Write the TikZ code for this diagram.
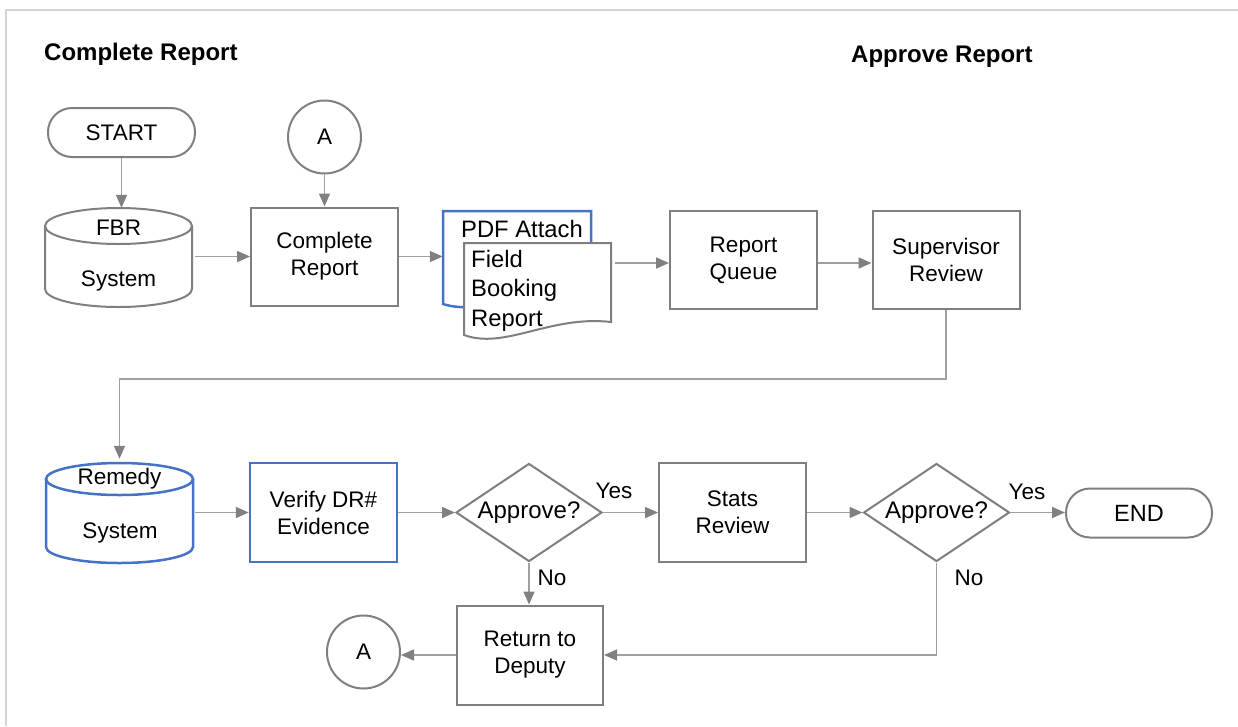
\documentclass[tikz,border=0pt]{standalone}
\usepackage{fontspec}
\setmainfont{Liberation Sans}
\usetikzlibrary{arrows.meta,shapes.geometric}
\definecolor{shp}{HTML}{7F7F7F}
\definecolor{cn}{HTML}{A0A0A0}
\definecolor{ah}{HTML}{808080}
\definecolor{bl}{HTML}{4472C4}
\definecolor{frm}{HTML}{D4D4D4}
\tikzset{
  txt/.style={font=\fontsize{22.5}{27}\selectfont, align=center, inner sep=0},
  proc/.style={txt, rectangle, draw=shp, line width=2pt, fill=white, minimum width=147, minimum height=98},
  term/.style={txt, rectangle, rounded corners=24pt, draw=shp, line width=2pt, minimum width=147, minimum height=49},
  dec/.style={diamond, draw=shp, line width=2pt, minimum width=146, minimum height=98, inner sep=0, aspect=1.49,
    font=\fontsize{24}{28}\selectfont},
  conn/.style={draw=cn, line width=1.6pt, -{Triangle[length=13pt,width=11pt,fill=ah,color=ah]}},
  ghost/.style={inner sep=0, rectangle},
  ttl/.style={font=\bfseries\fontsize{24}{28}\selectfont, inner sep=0}
}
\begin{document}
\begin{tikzpicture}[x=1pt,y=-1pt]
\useasboundingbox (0,0) rectangle (1238,726);
% frame
\draw[frm, line width=2.5pt] (6,726) -- (6,10) -- (1238,10);
% titles
\node[ttl, anchor=west] (t1) at (44,54) {Complete Report};
\node[ttl, anchor=west] (t2) at (851,57) {Approve Report};
% start
\node[term] (start) at (121.5,132.5) {START};
% FBR cylinder
\node[ghost, minimum width=147, minimum height=99] (fbr) at (118.5,257.5) {};
\filldraw[draw=shp, fill=white, line width=2pt] (45,226) -- (45,289) arc[start angle=180, end angle=360, x radius=73.5pt, y radius=18pt] -- (192,226);
\draw[shp, line width=2pt] (118.5,226) ellipse[x radius=73.5pt, y radius=18pt];
\node[txt] (fbrt) at (118.5,228) {FBR};
\node[txt] (fbrs) at (118.5,281) {System};
% A top
\node[txt, circle, draw=shp, line width=2pt, minimum size=73] (a1) at (324.5,137) {A};
% complete report
\node[proc] (cr) at (324.5,256.5) {Complete\\Report};
% PDF attach (blue document)
\node[ghost, minimum width=148, minimum height=93] (pdf) at (517,257.5) {};
\filldraw[draw=bl, fill=white, line width=2.5pt] (443,304) -- (443,211) -- (591,211) -- (591,296) .. controls (530,290) and (480,316) .. (443,304) -- cycle;
\node[txt, font=\fontsize{23.8}{28}\selectfont] (pdft) at (522,229) {PDF Attach};
% Field booking report document
\node[ghost, minimum width=147, minimum height=95] (fbd) at (537.5,290) {};
\filldraw[draw=shp, fill=white, line width=2pt] (464,335) -- (464,243) -- (611,243) -- (611,322) .. controls (550,315) and (505,350) .. (464,335) -- cycle;
\node[txt, align=left, anchor=west, font=\fontsize{23.8}{29.5}\selectfont] (fbdt) at (471,290.5) {Field\\Booking\\Report};
% report queue, supervisor review
\node[proc] (rq) at (743.5,260) {Report\\Queue};
\node[proc] (sr) at (946,260) {Supervisor\\Review};
% Remedy cylinder
\node[ghost, minimum width=147, minimum height=100] (rem) at (119.5,513) {};
\filldraw[draw=bl, fill=white, line width=2.5pt] (46,479) -- (46,547) arc[start angle=180, end angle=360, x radius=73.5pt, y radius=16pt] -- (193,479);
\draw[bl, line width=2.5pt] (119.5,479) ellipse[x radius=73.5pt, y radius=16pt];
\node[txt] (remt) at (119.5,479) {Remedy};
\node[txt] (rems) at (120,533) {System};
% verify
\node[proc, draw=bl, line width=2.5pt, minimum height=99] (ver) at (323.5,512.5) {Verify DR\#\\Evidence};
% decisions
\node[dec] (ap1) at (529,512.5) {Approve?};
\node[proc, minimum height=99] (st) at (732.5,512.5) {Stats\\Review};
\node[dec] (ap2) at (936.5,512.5) {Approve?};
\node[term, minimum width=146, font=\fontsize{23.5}{28}\selectfont] (end) at (1139,513) {END};
\node[proc, minimum width=146, minimum height=99] (ret) at (530,655) {Return to\\Deputy};
\node[txt, circle, draw=shp, line width=2pt, minimum size=73] (a2) at (363.5,652) {A};
% labels
\node[txt] (y1) at (614,491) {Yes};
\node[txt] (y2) at (1027,492) {Yes};
\node[txt] (n1) at (552,578) {No};
\node[txt] (n2) at (969,578) {No};
% connectors
\draw[conn] (start) -- (fbr.north -| start);
\draw[conn] (a1) -- (cr);
\draw[conn] (fbr.east |- cr) ++(3,0) -- (cr.west);
\draw[conn] (cr.east) -- (cr.east -| pdf.west);
\draw[conn] ([yshift=-3pt]fbd.east |- rq) ++(4,0) -- ([yshift=-3pt]rq.west);
\draw[conn] ([yshift=-3pt]rq.east) -- ([yshift=-3pt]sr.west);
\coordinate (bend) at (119.5,379);
\draw[conn] (sr.south) -- (sr.south |- bend) -- (bend) -- ([yshift=4pt]rem.north);
\draw[conn] (rem.east |- ver.west) ++(2,0) -- (ver.west);
\draw[conn] (ver.east) -- (ap1.west);
\draw[conn] (ap1.east) -- (st.west);
\draw[conn] (st.east) -- (ap2.west);
\draw[conn] (ap2.east) -- (ap2.east -| end.west);
\draw[conn] (ap1.south) -- (ret.north -| ap1.south);
\draw[conn] (ap2.south) |- (ret.east);
\draw[conn] (ret.west) -- (ret.west -| a2.east);
\end{tikzpicture}
\end{document}
